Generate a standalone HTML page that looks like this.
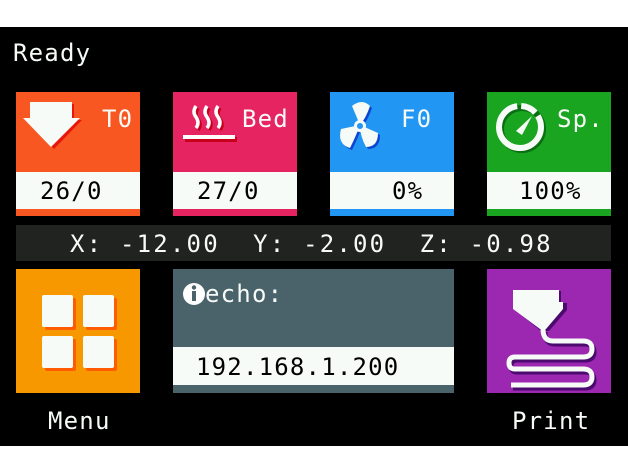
<!DOCTYPE html><html><head><style>
body{margin:0;width:628px;height:472px;background:#fff;position:relative;overflow:hidden;font-family:"DejaVu Sans Mono","Liberation Mono",monospace}
.a{position:absolute}
.blk{left:0;top:27px;width:628px;height:419px;background:#000}
.t{color:#f7fbf7;font-size:24px;line-height:1;letter-spacing:1.2px;white-space:pre}
.s{background:#f7fbf7}
.v{color:#000;font-size:24px;line-height:1;letter-spacing:1.2px;white-space:pre}
</style></head><body>
<div class="a blk"></div>
<div class="a t" style="left:13px;top:41px">Ready</div>

<div class="a" style="left:16px;top:92px;width:124px;height:124px;background:#f95722"></div>
<div class="a s" style="left:16px;top:172px;width:124px;height:37px"></div>
<div class="a t" style="left:102px;top:107px">T0</div>
<svg class="a" style="left:16px;top:92px" width="80" height="70"><polygon points="16,12 58,12 58,28 66,28 38,57 9,28 16,28" fill="#e8170c"/><polygon points="14,10 56,10 56,26 64,26 35,55 7,26 14,26" fill="#f7fbf7"/></svg>
<div class="a v" style="left:40px;top:179px">26/0</div>

<div class="a" style="left:173px;top:92px;width:124px;height:124px;background:#e62462"></div>
<div class="a s" style="left:173px;top:172px;width:124px;height:37px"></div>
<div class="a t" style="left:242px;top:107px">Bed</div>
<svg class="a" style="left:173px;top:92px" width="70" height="60"><g stroke="#c8001c" stroke-width="3.5" fill="none"><path d="M25,16 q-4,6 0,11 q4,6 0,11 M36,16 q-4,6 0,11 q4,6 0,11 M47,16 q-4,6 0,11 q4,6 0,11"/></g><g stroke="#fff" stroke-width="3.5" fill="none"><path d="M23,14 q-4,6 0,11 q4,6 0,11 M34,14 q-4,6 0,11 q4,6 0,11 M45,14 q-4,6 0,11 q4,6 0,11"/></g><rect x="12" y="45" width="52" height="5" fill="#c8001c"/><rect x="10" y="43" width="52" height="4" fill="#fff"/></svg>
<div class="a v" style="left:197px;top:179px">27/0</div>

<div class="a" style="left:330px;top:92px;width:124px;height:124px;background:#2196f3"></div>
<div class="a s" style="left:330px;top:172px;width:124px;height:37px"></div>
<div class="a t" style="left:401px;top:107px">F0</div>
<svg class="a" style="left:336px;top:100px" width="56" height="56"><g fill="#0d47d1" transform="translate(2,2)"><path d="M24,25 L16,6 Q26,-2 34,6 Q30,18 24,25Z"/><path d="M24,25 L5,29 Q1,44 14,48 Q20,36 24,25Z"/><path d="M24,25 L42,33 Q42,47 30,47 Q24,36 24,25Z"/></g><g fill="#f7fbf7"><path d="M24,25 L16,6 Q26,-2 34,6 Q30,18 24,25Z"/><path d="M24,25 L5,29 Q1,44 14,48 Q20,36 24,25Z"/><path d="M24,25 L42,33 Q42,47 30,47 Q24,36 24,25Z"/><circle cx="24" cy="26" r="6"/></g><circle cx="24" cy="26" r="3" fill="#2196f3"/></svg>
<div class="a v" style="left:392px;top:179px">0%</div>

<div class="a" style="left:487px;top:92px;width:124px;height:124px;background:#19a520"></div>
<div class="a s" style="left:487px;top:172px;width:124px;height:37px"></div>
<div class="a t" style="left:557px;top:107px">Sp.</div>
<svg class="a" style="left:494px;top:100px" width="56" height="56"><circle cx="28" cy="29" r="21" fill="none" stroke="#0a6e12" stroke-width="6"/><circle cx="26" cy="27" r="21" fill="none" stroke="#f7fbf7" stroke-width="6" stroke-dasharray="96 4 16 4 16 4"/><polygon points="22,31 38,16 28,35" fill="#f7fbf7"/></svg>
<div class="a v" style="left:519px;top:179px">100%</div>

<div class="a" style="left:16px;top:225px;width:595px;height:36px;background:#202320"></div>
<div class="a t" style="left:70px;top:232px;letter-spacing:2.2px">X: -12.00  Y: -2.00  Z: -0.98</div>

<div class="a" style="left:16px;top:269px;width:124px;height:124px;background:#f79800"></div>
<svg class="a" style="left:16px;top:269px" width="124" height="124"><g fill="#ff5c00"><rect x="29" y="29" width="31" height="32" rx="2"/><rect x="70" y="29" width="31" height="32" rx="2"/><rect x="29" y="70" width="31" height="32" rx="2"/><rect x="70" y="70" width="31" height="32" rx="2"/></g><g fill="#f7fbf7"><rect x="26" y="26" width="31" height="32" rx="2"/><rect x="67" y="26" width="31" height="32" rx="2"/><rect x="26" y="67" width="31" height="32" rx="2"/><rect x="67" y="67" width="31" height="32" rx="2"/></g></svg>
<div class="a t" style="left:48px;top:409px">Menu</div>

<div class="a" style="left:173px;top:269px;width:281px;height:124px;background:#4a636b"></div>
<div class="a s" style="left:173px;top:347px;width:281px;height:38px"></div>
<svg class="a" style="left:182px;top:282px" width="24" height="24"><circle cx="12" cy="12" r="11" fill="#fff"/><rect x="10" y="9" width="4" height="10" fill="#4a636b"/><circle cx="12" cy="5.5" r="2.2" fill="#4a636b"/></svg>
<div class="a t" style="left:205px;top:282px">echo:</div>
<div class="a v" style="left:196px;top:355px">192.168.1.200</div>

<div class="a" style="left:487px;top:269px;width:124px;height:124px;background:#9c27b0"></div>
<svg class="a" style="left:487px;top:269px" width="124" height="124"><g fill="none" stroke="#4a0a6e" stroke-width="5" transform="translate(2,3)"><path d="M56,60 q0,12 10,12 h30 q9,0 9,8 q0,8 -9,8 h-68 q-6,0 -6,6 q0,6 6,6 h68 q9,0 9,8 q0,8 -9,8 h-72"/></g><polygon points="26,21 72,21 72,33 78,33 78,40 60,61 52,61 26,40" fill="#4a0a6e" transform="translate(2,1)"/><polygon points="26,21 72,21 72,33 76,33 76,40 59,60 53,60 26,40" fill="#f7fbf7"/><path d="M56,60 q0,12 10,12 h30 q9,0 9,8 q0,8 -9,8 h-68 q-6,0 -6,6 q0,6 6,6 h68 q9,0 9,8 q0,8 -9,8 h-72" fill="none" stroke="#f7fbf7" stroke-width="5"/></svg>
<div class="a t" style="left:512px;top:409px">Print</div>
</body></html>
